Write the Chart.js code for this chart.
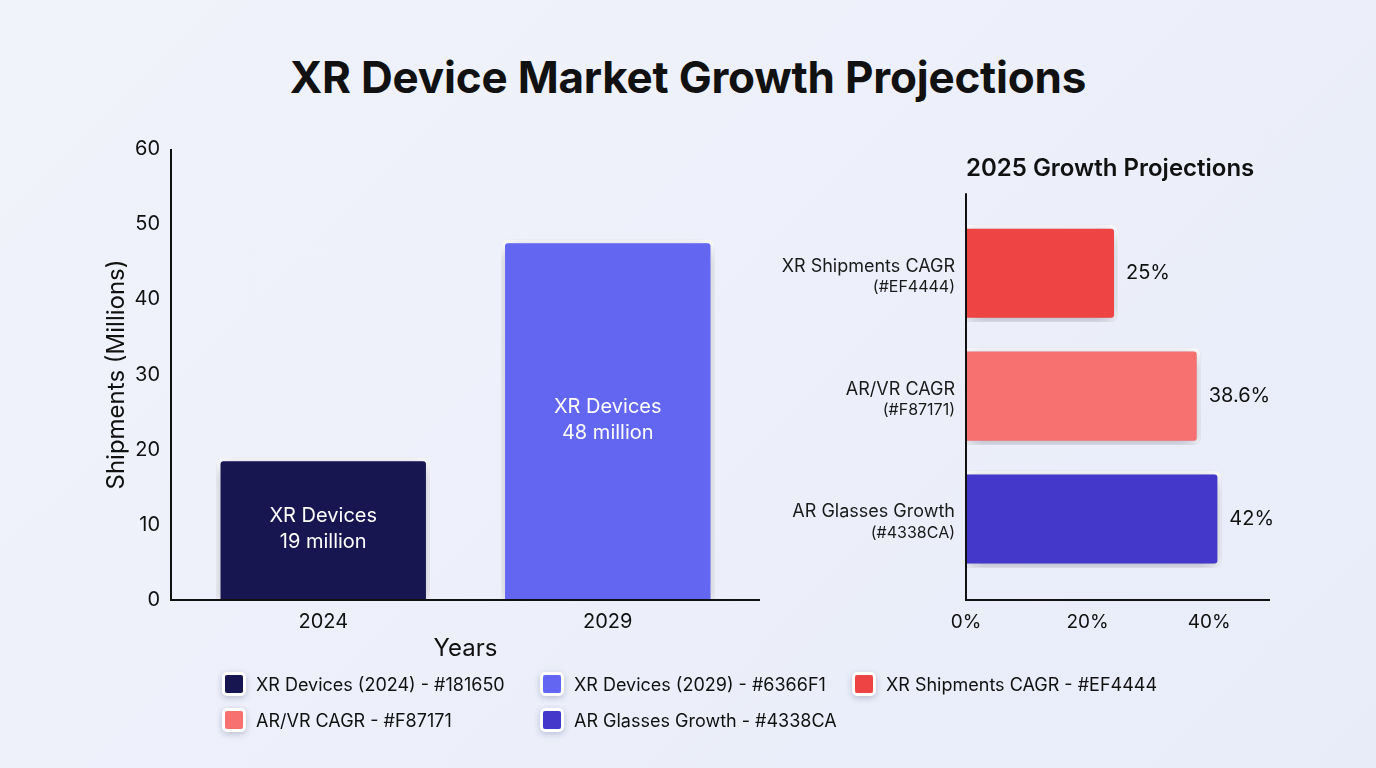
<!DOCTYPE html>
<html>
<head>
<meta charset="utf-8">
<script src="https://cdn.jsdelivr.net/npm/chart.js@4.4.1/dist/chart.umd.min.js"></script>
<style>
  html, body { margin: 0; padding: 0; }
  body {
    width: 1376px; height: 768px; position: relative; overflow: hidden;
    background: linear-gradient(135deg, #F1F3FB 0%, #ECEFFA 60%, #E8ECF9 100%);
    font-family: Inter, "Noto Sans", sans-serif; color: #111;
  }
  h1 {
    position: absolute; left: 0; right: 0; top: 48px; margin: 0;
    text-align: center; font-size: 44px; font-weight: 700; line-height: 58px;
    letter-spacing: -0.2px;
  }
  .box { position: absolute; }
  #left { left: 90px; top: 120px; width: 690px; height: 560px; }
  #right { left: 770px; top: 140px; width: 540px; height: 520px; }
  #legend {
    position: absolute; left: 222px; top: 672px;
    display: grid; grid-template-columns: 318px 312px auto; row-gap: 12px;
  }
  .item { display: flex; align-items: center; height: 24px; font-size: 18px; }
  .sw {
    width: 18px; height: 18px; border: 3px solid #fff; border-radius: 5px;
    box-shadow: 0 2px 6px rgba(30, 40, 90, 0.25); margin-right: 10px;
  }
</style>
</head>
<body>
<h1>XR Device Market Growth Projections</h1>
<div class="box" id="left"><canvas id="shipChart"></canvas></div>
<div class="box" id="right"><canvas id="growthChart"></canvas></div>
<div id="legend"></div>
<script>
// Datos del gráfico
const years = ['2024', '2029'];
const shipments = [19, 48];
const shipmentColors = ['#181650', '#6366F1'];

const growthLabels = ['XR Shipments CAGR', 'AR/VR CAGR', 'AR Glasses Growth'];
const growthValues = [25, 38.6, 42];
const growthColors = ['#EF4444', '#F87171', '#4338CA'];

const legendNames = ['XR Devices (2024)', 'XR Devices (2029)', 'XR Shipments CAGR', 'AR/VR CAGR', 'AR Glasses Growth'];
const legendColors = ['#181650', '#6366F1', '#EF4444', '#F87171', '#4338CA'];

Chart.defaults.font.family = "Inter, 'Noto Sans', sans-serif";
Chart.defaults.color = '#111';

// Sombra suave para las barras
const shadowPlugin = {
  id: 'barShadow',
  beforeDatasetsDraw(chart) {
    const ctx = chart.ctx;
    ctx.save();
    ctx.shadowColor = 'rgba(30, 40, 90, 0.36)';
    ctx.shadowBlur = 18;
    ctx.shadowOffsetY = 5;
  },
  afterDatasetsDraw(chart) {
    chart.ctx.restore();
  }
};

// Ejes dibujados a mano, un poco más largos que el área del gráfico
const axisLinesPlugin = {
  id: 'axisLines',
  afterDatasetsDraw(chart, args, opts) {
    const { ctx, chartArea: { left, right, top, bottom } } = chart;
    const padX = opts.padX || 0, padTop = opts.padTop || 0, padBottom = opts.padBottom || 0;
    ctx.save();
    ctx.strokeStyle = '#111';
    ctx.lineWidth = 2;
    ctx.beginPath();
    ctx.moveTo(left - padX, top - padTop);
    ctx.lineTo(left - padX, bottom + padBottom);
    ctx.lineTo(right + padX, bottom + padBottom);
    ctx.stroke();
    ctx.restore();
  }
};

// Texto dentro de las barras verticales
const insideLabels = {
  id: 'insideLabels',
  afterDatasetsDraw(chart) {
    const ctx = chart.ctx;
    const meta = chart.getDatasetMeta(0);
    ctx.save();
    ctx.fillStyle = '#fff';
    ctx.font = "400 20px Inter, sans-serif";
    ctx.textAlign = 'center';
    ctx.textBaseline = 'middle';
    meta.data.forEach((bar, i) => {
      const cy = (bar.y + bar.base) / 2;
      ctx.fillText('XR Devices', bar.x, cy - 13);
      ctx.fillText(shipments[i] + ' million', bar.x, cy + 13);
    });
    ctx.restore();
  }
};

// Valores y etiquetas de la barra horizontal
const growthLabelsPlugin = {
  id: 'growthLabels',
  afterDraw(chart) {
    const ctx = chart.ctx;
    const meta = chart.getDatasetMeta(0);
    const yScale = chart.scales.y;
    ctx.save();
    ctx.textBaseline = 'middle';
    meta.data.forEach((bar, i) => {
      ctx.textAlign = 'left';
      ctx.fillStyle = '#111';
      ctx.font = "400 20px Inter, sans-serif";
      ctx.fillText(growthValues[i] + '%', bar.x + 8, bar.y);

      const y = yScale.getPixelForValue(i);
      const x = chart.chartArea.left - 11;
      ctx.textAlign = 'right';
      ctx.fillStyle = '#1a1a1a';
      ctx.font = "400 18px Inter, sans-serif";
      ctx.fillText(growthLabels[i], x, y - 7);
      ctx.font = "400 16px Inter, sans-serif";
      ctx.fillText('(' + growthColors[i] + ')', x, y + 14);
    });
    ctx.restore();
  }
};

new Chart(document.getElementById('shipChart'), {
  type: 'bar',
  data: {
    labels: years,
    datasets: [{
      data: shipments,
      backgroundColor: shipmentColors,
      borderColor: '#fff',
      borderWidth: 4,
      borderRadius: 7,
      barPercentage: 0.75,
      categoryPercentage: 1
    }]
  },
  plugins: [shadowPlugin, insideLabels, axisLinesPlugin],
  options: {
    responsive: true,
    maintainAspectRatio: false,
    animation: false,
    layout: { padding: { top: 29, right: 30, left: 0, bottom: 0 } },
    plugins: {
      legend: { display: false },
      tooltip: { enabled: false },
      axisLines: { padX: 10 }
    },
    scales: {
      x: {
        grid: { display: false },
        border: { display: false },
        ticks: { font: { size: 20 }, color: '#111', padding: 2 },
        title: { display: true, text: 'Years', font: { size: 24 }, color: '#111', padding: { top: 0, bottom: 17 } },
        afterFit(scale) { scale.height = 80; }
      },
      y: {
        min: 0, max: 60,
        grid: { display: false },
        border: { display: false },
        ticks: { stepSize: 10, font: { size: 20 }, color: '#111', padding: 13 },
        title: { display: true, text: 'Shipments (Millions)', font: { size: 24 }, color: '#111', padding: { top: 12, bottom: 0 } },
        afterFit(scale) { scale.width = 91; }
      }
    }
  }
});

new Chart(document.getElementById('growthChart'), {
  type: 'bar',
  data: {
    labels: growthLabels,
    datasets: [{
      data: growthValues,
      backgroundColor: growthColors,
      borderColor: '#fff',
      borderWidth: 4,
      borderRadius: 7,
      barPercentage: 0.79,
      categoryPercentage: 1
    }]
  },
  plugins: [shadowPlugin, axisLinesPlugin, growthLabelsPlugin],
  options: {
    indexAxis: 'y',
    responsive: true,
    maintainAspectRatio: false,
    animation: false,
    layout: { padding: { top: 0, right: 40, left: 0, bottom: 0 } },
    plugins: {
      legend: { display: false },
      tooltip: { enabled: false },
      title: {
        display: true,
        text: '2025 Growth Projections',
        align: 'start',
        fullSize: false,
        color: '#111',
        font: { size: 24, weight: '600' },
        padding: { top: 14, bottom: 29 }
      },
      axisLines: { padTop: 18.5, padBottom: 19.5 }
    },
    scales: {
      x: {
        min: 0, max: 50,
        grid: { display: false },
        border: { display: false },
        ticks: { stepSize: 20, font: { size: 19 }, color: '#111', padding: 22, callback: v => v + '%' },
        afterBuildTicks(scale) { scale.ticks = scale.ticks.filter(t => t.value % 20 === 0); },
        afterFit(scale) { scale.height = 79.5; }
      },
      y: {
        grid: { display: false },
        border: { display: false },
        ticks: { display: false },
        afterFit(scale) { scale.width = 196; }
      }
    }
  }
});

// Leyenda en HTML
const legendEl = document.getElementById('legend');
legendNames.forEach((name, i) => {
  const item = document.createElement('div');
  item.className = 'item';
  const sw = document.createElement('span');
  sw.className = 'sw';
  sw.style.background = legendColors[i];
  item.appendChild(sw);
  item.appendChild(document.createTextNode(name + ' - ' + legendColors[i]));
  legendEl.appendChild(item);
});
</script>
</body>
</html>
